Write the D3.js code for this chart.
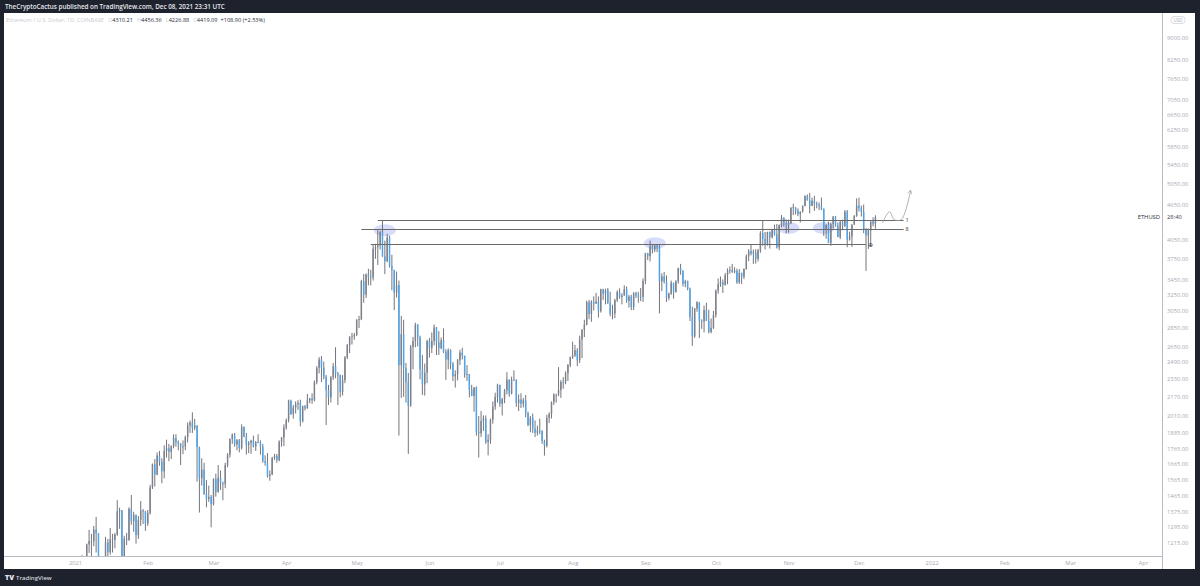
<!DOCTYPE html>
<html><head><meta charset="utf-8">
<script src="https://cdn.jsdelivr.net/npm/d3@7"></script>
<style>
html,body{margin:0;padding:0;background:#1e222d;}
svg{display:block;font-family:"Open Sans","Liberation Sans",sans-serif;}
</style></head>
<body><svg id="c" width="1200" height="586"></svg>
<script>
// ---- DATA (ETH/USD, 1D, Coinbase, 2021-01-01 .. 2021-12-08) ----
const startDate = "2021-01-01";
const firstOpen = 737;
const closes = [
730,775,979,1041,1100,1208,1225,1224,1281,1262,1090,1045,1130,1218,1171,1233,1230,1257,1377,1382,1121,1236,1230,1391,1324,1357,1253,1332,1382,1376,1314,
1369,1515,1660,1594,1719,1678,1614,1750,1769,1743,1784,1843,1813,1800,1779,1781,1848,1937,1960,1919,1935,1778,1571,1626,1475,1447,1459,1417,
1566,1488,1574,1541,1534,1655,1724,1835,1869,1796,1826,1772,1924,1853,1792,1807,1823,1782,1812,1811,1781,1681,1669,1584,1595,1702,1716,1688,1817,1845,1919,
1977,2136,2025,2079,2108,2117,1969,2089,2072,2138,2155,2140,2300,2434,2516,2434,2349,2227,2164,2343,2449,2379,2364,2212,2316,2534,2662,2747,2756,2773,
2945,2950,3431,3253,3522,3490,3484,3902,3928,3952,4168,3785,3715,4079,3643,3584,3278,3381,2460,2781,2430,2297,2096,2644,2707,2887,2744,2420,2279,2386,2706,
2634,2708,2856,2690,2630,2715,2593,2515,2610,2472,2353,2372,2508,2587,2551,2367,2373,2232,2177,2251,1888,1877,1971,1990,1813,1830,1982,2086,2168,2275,
2110,2150,2225,2322,2198,2322,2318,2116,2146,2110,2140,2033,1940,1995,1912,1880,1898,1895,1820,1786,1994,2026,2124,2188,2189,2228,2301,2300,2381,2462,2537,
2557,2609,2507,2724,2827,2890,3158,3012,3163,3141,3164,3048,3322,3266,3311,3148,3014,3019,3182,3287,3225,3242,3322,3174,3228,3097,3272,3243,3227,3225,3433,
3834,3788,3940,3887,3953,3926,3429,3497,3425,3210,3266,3409,3286,3430,3612,3573,3397,3433,3330,2977,2757,3078,3155,2931,2925,3062,2932,2807,2851,3000,
3307,3390,3418,3383,3515,3578,3587,3561,3575,3415,3545,3493,3603,3787,3867,3830,3847,3748,3879,4155,4055,3970,4170,4085,4220,4130,3924,4288,4415,4323,4288,
4322,4590,4600,4537,4476,4520,4620,4810,4735,4627,4722,4667,4647,4625,4570,4212,4290,3993,4302,4435,4270,4087,4340,4275,4523,4044,4097,4293,4445,4632,
4585,4514,4221,4115,4196,4348,4310.21,4419.09
];
const highs = [
749,787,1011,1158,1134,1212,1280,1260,1300,1347,1263,1150,1135,1245,1235,1290,1260,1265,1440,1398,1385,1250,1265,1400,1470,1375,1361,1352,1435,1390,1380,
1385,1530,1665,1695,1740,1750,1700,1790,1830,1800,1790,1870,1870,1825,1805,1825,1860,1960,1975,2040,1988,1939,1780,1700,1670,1560,1525,1470,
1570,1600,1655,1620,1550,1670,1735,1840,1875,1880,1835,1835,1945,1930,1880,1820,1830,1860,1820,1870,1825,1800,1720,1735,1620,1710,1730,1730,1825,1850,1945,
1990,2145,2145,2100,2130,2140,2145,2095,2100,2195,2160,2200,2315,2450,2540,2550,2495,2365,2275,2355,2480,2640,2395,2370,2365,2550,2675,2760,2795,2795,
2950,2990,3450,3530,3540,3605,3590,3975,3980,4200,4190,4372,4030,4140,4110,3810,3590,3565,3440,2990,2945,2480,2385,2665,2750,2910,2895,2765,2560,2475,2720,
2740,2800,2890,2860,2815,2745,2845,2620,2630,2620,2490,2410,2520,2615,2635,2555,2460,2375,2275,2255,2260,2010,2050,2015,2015,1870,1990,2130,2205,2285,
2275,2160,2238,2392,2325,2350,2410,2325,2190,2200,2160,2185,2045,2010,2030,1975,1935,1990,1900,1830,2020,2040,2130,2200,2195,2440,2318,2345,2400,2470,2545,
2700,2665,2630,2765,2840,2945,3175,3185,3180,3230,3275,3230,3330,3330,3330,3340,3290,3125,3200,3310,3335,3270,3375,3360,3250,3250,3285,3290,3290,3340,3470,
3840,3840,4030,3970,3975,3970,3960,3540,3560,3510,3280,3440,3410,3445,3620,3675,3585,3450,3440,3345,3100,3085,3170,3160,2950,3115,3150,3065,2960,3050,
3320,3470,3495,3455,3545,3610,3640,3675,3625,3605,3600,3550,3610,3815,3895,3970,3890,3895,3900,4185,4375,4170,4175,4180,4225,4295,4305,4295,4460,4420,4385,
4380,4600,4665,4600,4580,4525,4635,4825,4840,4868,4780,4815,4705,4690,4780,4580,4300,4345,4330,4440,4445,4330,4370,4380,4550,4550,4175,4300,4460,4765,
4778,4630,4650,4235,4230,4350,4420,4456.36
];
const lows = [
714,716,768,891,1000,1065,1168,1150,1200,1170,905,1020,1005,1120,1100,1160,1170,1190,1250,1285,1106,1040,1205,1225,1306,1270,1212,1235,1300,1310,1275,
1300,1360,1505,1520,1590,1650,1540,1570,1705,1680,1695,1768,1780,1755,1655,1728,1755,1810,1880,1880,1900,1550,1371,1525,1470,1400,1430,1293,
1410,1460,1483,1500,1440,1510,1640,1705,1800,1780,1755,1740,1760,1848,1725,1735,1730,1775,1750,1805,1725,1670,1650,1575,1555,1590,1690,1670,1680,1780,1785,
1905,1960,2020,1990,2030,2060,1930,1960,2055,2070,2115,2110,2130,2280,2380,2300,2325,1940,2100,2120,2320,2335,2100,2165,2180,2290,2520,2580,2670,2720,
2760,2850,2940,3150,3210,3375,3375,3440,3750,3660,3890,3780,3528,3700,3620,3310,3060,3215,1860,2160,2170,2120,1730,2085,2420,2640,2650,2325,2185,2180,2290,
2535,2580,2660,2560,2560,2620,2580,2320,2420,2420,2310,2250,2315,2460,2515,2340,2310,2165,2175,2045,1860,1705,1850,1895,1800,1720,1800,1950,2060,2120,
2085,2015,2115,2190,2170,2190,2310,2085,2050,2075,2080,2000,1930,1885,1880,1850,1860,1870,1800,1718,1775,1955,1990,2100,2120,2175,2160,2240,2280,2310,2440,
2520,2540,2450,2480,2530,2750,2880,2950,2920,3055,3135,2970,3030,3185,3130,3135,2985,2950,2965,3160,3200,3130,3240,3150,3090,3060,3060,3210,3150,3170,3160,
3390,3730,3710,3830,3850,3850,3020,3300,3400,3160,3180,3250,3200,3280,3400,3520,3360,3350,3310,2930,2655,2740,3040,2740,2840,2800,2930,2790,2790,2840,
2970,3265,3355,3275,3370,3390,3535,3545,3540,3395,3395,3395,3460,3590,3715,3800,3675,3680,3710,3840,3950,3890,3950,3905,4065,4110,3905,3880,4250,4260,4150,
4160,4305,4460,4470,4440,4330,4505,4620,4720,4490,4620,4535,4580,4550,4550,4105,4060,3990,3950,4230,4260,4085,4055,4200,4250,3925,4030,3930,4290,4430,
4525,4435,4150,3575,3900,3940,4265,4226.88
];
const priceTicks = [1215,1295,1375,1465,1565,1665,1765,1885,2010,2170,2330,2490,2650,2850,3050,3250,3450,3750,4050,4650,5050,5450,5850,6250,6650,7050,7650,8250,9000];
const monthTicks = ["2021-01-01","2021-02-01","2021-03-01","2021-04-01","2021-05-01","2021-06-01","2021-07-01","2021-08-01","2021-09-01","2021-10-01","2021-11-01","2021-12-01","2022-01-01","2022-02-01","2022-03-01","2022-04-01"];
// drawn horizontal rays: price, start, end, label
const levelPrices = [4380, 4215, 3970];
const levelStarts = ["2021-05-10","2021-05-03","2021-05-07"];
const levelEnds   = ["2021-12-20","2021-12-20","2021-12-04"];
const levelLabels = ["1","8",""];
// highlight ellipses: date, price
const markDates  = ["2021-05-13","2021-09-05","2021-11-01","2021-11-16"];
const markPrices = [4200, 3990, 4235, 4235];
// projected path drawing (date, price)
const projDates  = ["2021-12-11","2021-12-14","2021-12-16","2021-12-19","2021-12-23"];
const projPrices = [4322, 4520, 4380, 4380, 4920];
// small event marker under the last candles (date, price)
const eventDate = "2021-12-06";
const eventPrice = 3960;
const titleText = "TheCryptoCactus published on TradingView.com, Dec 08, 2021 23:31 UTC";
const symbolText = "Ethereum / U.S. Dollar, 1D, COINBASE";
const ohlcLabels = ["O","H","L","C"];
const ohlcValues = ["4310.21","4456.36","4226.88","4419.09"];
const changeText = "+108.90 (+2.53%)";

// ---- LAYOUT ----
const svg = d3.select("#c");
const W = 1200, H = 586;
const panel = {x0:4, x1:1195, y0:13, y1:569};
const plot = {x0:4, x1:1162, y0:13, y1:556};
const parse = d3.utcParse("%Y-%m-%d");
const x = d3.scaleUtc().domain([parse("2021-01-01"), parse("2022-04-01")]).range([75, 1143]);
const y = d3.scaleLog().domain([1215, 9000]).range([543, 38]);
const axisGrey = "#a7aab3";

svg.append("rect").attr("width",W).attr("height",H).attr("fill","#1e222d");
svg.append("rect").attr("x",panel.x0).attr("y",panel.y0).attr("width",panel.x1-panel.x0).attr("height",panel.y1-panel.y0).attr("fill","#ffffff");

svg.append("defs").append("clipPath").attr("id","clip").append("rect")
  .attr("x",plot.x0).attr("y",plot.y0).attr("width",plot.x1-plot.x0).attr("height",plot.y1-plot.y0);

const g = svg.append("g").attr("clip-path","url(#clip)");

// data rows
const start = parse(startDate);
const data = closes.map((c,i)=>({
  date: d3.utcDay.offset(start,i),
  o: i ? closes[i-1] : firstOpen, h: highs[i], l: lows[i], c
}));

// ellipses behind candles
g.append("g").selectAll("ellipse").data(markDates).join("ellipse")
  .attr("cx",(d)=>x(parse(d))).attr("cy",(d,i)=>y(markPrices[i]))
  .attr("rx",11).attr("ry",6).attr("fill","#8c9cf0").attr("opacity",0.35);

const step = x(d3.utcDay.offset(start,1)) - x(start);
const bw = Math.max(1, step*0.62);
const upCol = "#7e818a", downCol = "#4ea3ea", wickCol = "#4f525b";

const cg = g.append("g");
cg.selectAll("line.w").data(data).join("line").attr("class","w")
  .attr("x1",d=>x(d.date)).attr("x2",d=>x(d.date))
  .attr("y1",d=>y(Math.max(d.h,d.o,d.c))).attr("y2",d=>y(Math.min(d.l,d.o,d.c)))
  .attr("stroke",wickCol).attr("stroke-width",0.8);
cg.selectAll("rect.b").data(data).join("rect").attr("class","b")
  .attr("x",d=>x(d.date)-bw/2).attr("width",bw)
  .attr("y",d=>y(Math.max(d.o,d.c)))
  .attr("height",d=>Math.max(0.8, y(Math.min(d.o,d.c))-y(Math.max(d.o,d.c))))
  .attr("fill",d=>d.c>=d.o?upCol:downCol);

// horizontal rays
levelPrices.forEach((p,i)=>{
  g.append("line").attr("x1",x(parse(levelStarts[i]))).attr("x2",x(parse(levelEnds[i])))
   .attr("y1",Math.round(y(p))+0.5).attr("y2",Math.round(y(p))+0.5)
   .attr("stroke","#6a6a6a").attr("stroke-width",1);
  if(levelLabels[i]) g.append("text").attr("x",x(parse(levelEnds[i]))+2).attr("y",y(p)).attr("dy","0.35em")
   .attr("font-size",5.5).attr("fill","#333").text(levelLabels[i]);
});

// event marker
g.append("text").attr("x",x(parse(eventDate))).attr("y",y(eventPrice)).attr("dy","0.35em")
  .attr("text-anchor","middle").attr("font-size",6).attr("fill","#3a3d45").text("⊕");

// projection path
const proj = projDates.map((d,i)=>[x(parse(d)), y(projPrices[i])]);
g.append("path").attr("d", d3.line().curve(d3.curveCatmullRom)(proj))
  .attr("fill","none").attr("stroke","#9a9ca3").attr("stroke-width",0.8);
const pe = proj[proj.length-1], pp = proj[proj.length-2];
const ang = Math.atan2(pe[1]-pp[1], pe[0]-pp[0]);
const ah = 4;
g.append("path").attr("d", `M${pe[0]-ah*Math.cos(ang-0.5)},${pe[1]-ah*Math.sin(ang-0.5)}L${pe[0]},${pe[1]}L${pe[0]-ah*Math.cos(ang+0.5)},${pe[1]-ah*Math.sin(ang+0.5)}`)
  .attr("fill","none").attr("stroke","#9a9ca3").attr("stroke-width",0.8);

// axes separators
svg.append("line").attr("x1",plot.x1+0.5).attr("x2",plot.x1+0.5).attr("y1",panel.y0).attr("y2",panel.y1).attr("stroke","#b8bbc2");
svg.append("line").attr("x1",panel.x0).attr("x2",plot.x1).attr("y1",plot.y1+0.5).attr("y2",plot.y1+0.5).attr("stroke","#b8bbc2");

// y axis (right)
const yAxis = d3.axisRight(y).tickValues(priceTicks).tickFormat(d3.format(".2f")).tickSize(0).tickPadding(0);
const ya = svg.append("g").attr("transform",`translate(${plot.x1+5},0)`).call(yAxis);
ya.select(".domain").remove();
ya.selectAll("text").attr("font-size",5.8).attr("fill",axisGrey).attr("font-family","Open Sans");

// x axis (bottom)
const fmt = d=> d.getUTCMonth()===0 ? d3.utcFormat("%Y")(d) : d3.utcFormat("%b")(d);
const xAxis = d3.axisBottom(x).tickValues(monthTicks.map(parse)).tickFormat(fmt).tickSize(0).tickPadding(0);
const xa = svg.append("g").attr("transform",`translate(0,${plot.y1+5})`).call(xAxis);
xa.select(".domain").remove();
xa.selectAll("text").attr("font-size",5.8).attr("fill",axisGrey).attr("font-family","Open Sans");

// USD badge
svg.append("rect").attr("x",1171).attr("y",16.5).attr("width",14).attr("height",7).attr("rx",3)
  .attr("fill","none").attr("stroke","#c2c4ca").attr("stroke-width",0.6);
svg.append("text").attr("x",1178).attr("y",20).attr("dy","0.35em").attr("text-anchor","middle")
  .attr("font-size",4.5).attr("fill","#a7aab3").text("USD");

// last price label / symbol
const lastY = y(closes[closes.length-1]);
svg.append("text").attr("x",1160).attr("y",lastY).attr("dy","0.35em").attr("text-anchor","end")
  .attr("font-size",5.8).attr("fill","#2a2e39").text("ETHUSD");
svg.append("text").attr("x",plot.x1+5).attr("y",lastY).attr("dy","0.35em")
  .attr("font-size",5.8).attr("fill","#3a3d45").text("28:40");

// header
svg.append("text").attr("x",5).attr("y",6.5).attr("dy","0.35em").attr("font-size",6.3).attr("font-weight",600)
  .attr("fill","#e6e8ee").text(titleText);
const t2 = svg.append("text").attr("x",6).attr("y",20).attr("dy","0.35em").attr("font-size",5.6).attr("fill","#c9cbd1");
t2.append("tspan").text(symbolText);
ohlcLabels.forEach((l,i)=>{
  t2.append("tspan").attr("dx",4).attr("fill","#c9cbd1").text(l);
  t2.append("tspan").attr("fill","#2a2e39").text(ohlcValues[i]);
});
t2.append("tspan").attr("dx",3).attr("fill","#2a2e39").text(changeText);

// footer logo
svg.append("text").attr("x",5).attr("y",577.5).attr("dy","0.35em").attr("font-size",7).attr("font-weight",800)
  .attr("fill","#e6e8ee").text("TV");
svg.append("text").attr("x",16).attr("y",577.5).attr("dy","0.35em").attr("font-size",6).attr("font-weight",600)
  .attr("fill","#d1d4dc").text("TradingView");
</script>
</body></html>
